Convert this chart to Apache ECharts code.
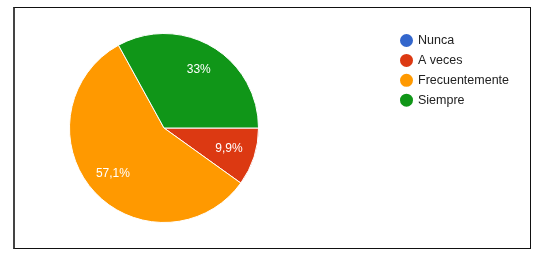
<!DOCTYPE html>
<html>
<head>
<meta charset="utf-8">
<script src="https://cdn.jsdelivr.net/npm/echarts@6/dist/echarts.min.js"></script>
<style>
  html, body { margin: 0; padding: 0; background: #fff; }
  #frame { position: absolute; left: 13px; top: 7px; width: 515px; height: 240px; border: 1px solid #111; border-left: 2px solid #444; }
  #chart { position: absolute; left: 0; top: 0; width: 539px; height: 259px; }
</style>
</head>
<body>
<div id="frame"></div>
<div id="chart"></div>
<script>
const categories = ['Nunca', 'A veces', 'Frecuentemente', 'Siempre'];
const values = [0, 9.9, 57.1, 33];
const colors = ['#3366cc', '#dc3912', '#ff9900', '#109618'];

const data = categories.map((name, i) => ({ name: name, value: values[i] }));
const fmt = p => p.value ? String(p.value).replace('.', ',') + '%' : '';

const chart = echarts.init(document.getElementById('chart'), null, { renderer: 'canvas' });
chart.setOption({
  animation: false,
  color: colors,
  legend: {
    data: categories,
    orient: 'vertical',
    left: 398,
    top: 32,
    padding: 0,
    icon: 'circle',
    itemWidth: 15,
    itemHeight: 15,
    itemGap: 2.9,
    textStyle: { fontFamily: 'Liberation Sans, Arial, sans-serif', fontSize: 12.5, lineHeight: 15, color: '#222', padding: [0, 0, 0, -1] }
  },
  series: [
    {
      type: 'pie',
      center: [164, 128],
      radius: [0, 94.5],
      startAngle: 0,
      clockwise: true,
      avoidLabelOverlap: false,
      itemStyle: { borderColor: '#fff', borderWidth: 1 },
      label: { show: false },
      labelLine: { show: false },
      emphasis: { disabled: true },
      data: data
    },
    {
      type: 'pie',
      center: [164, 128],
      radius: [36, 94.5],
      startAngle: 0,
      clockwise: true,
      silent: true,
      avoidLabelOverlap: false,
      itemStyle: { color: 'rgba(0,0,0,0)', borderWidth: 0 },
      label: {
        show: true,
        position: 'inside',
        formatter: fmt,
        color: '#fff',
        fontFamily: 'Liberation Sans, Arial, sans-serif',
        fontSize: 12
      },
      labelLine: { show: false },
      emphasis: { disabled: true },
      data: data
    }
  ]
});
</script>
</body>
</html>
